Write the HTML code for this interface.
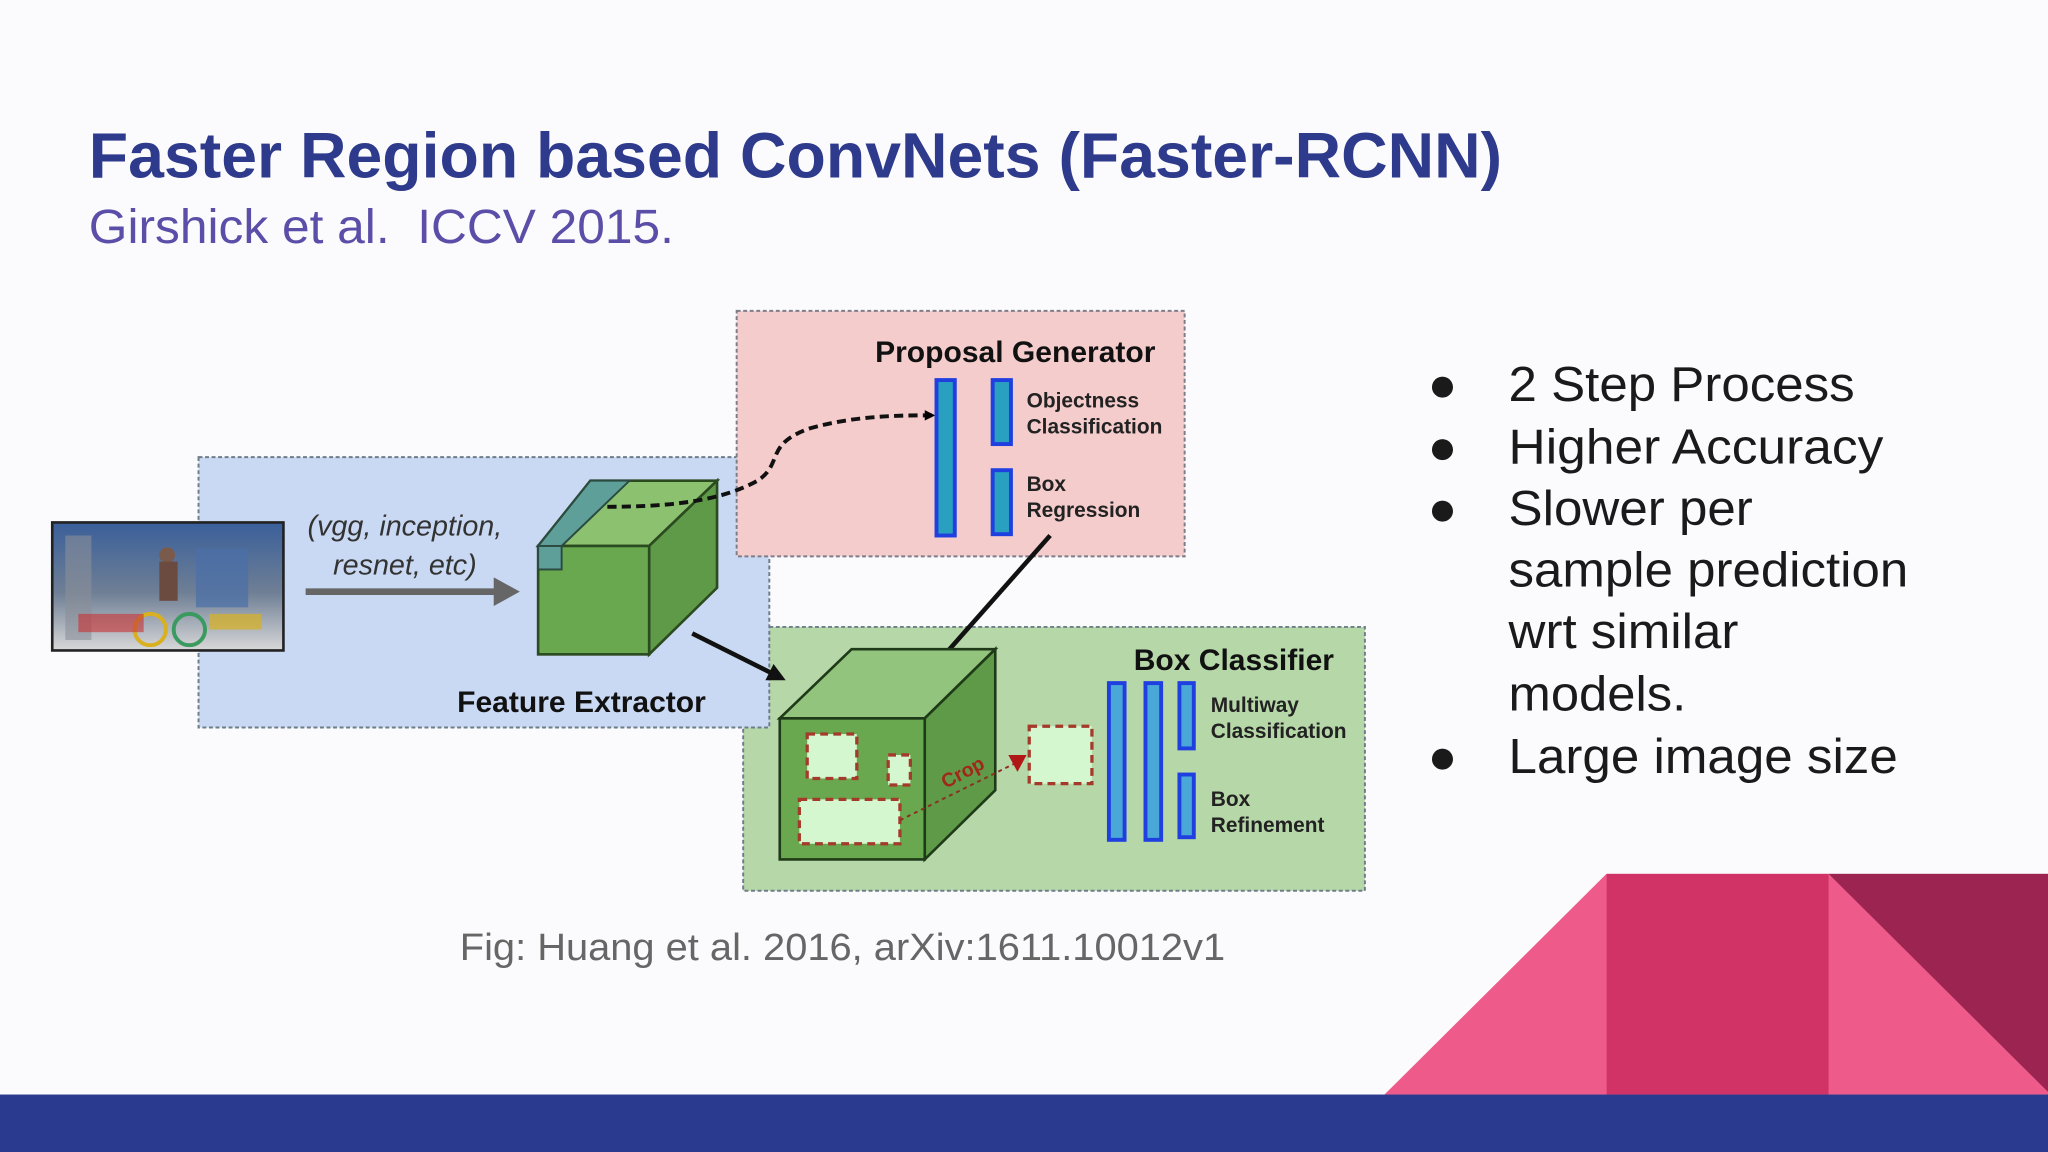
<!DOCTYPE html>
<html><head><meta charset="utf-8"><style>
html,body{margin:0;padding:0;background:#fbfbfd;}
svg{display:block;}
text{font-family:"Liberation Sans",sans-serif;white-space:pre;}
</style></head><body>
<svg width="2048" height="1152" viewBox="0 0 1568 882" xmlns="http://www.w3.org/2000/svg" xml:space="preserve">
<defs>
<marker id="ah" markerWidth="8" markerHeight="8" refX="6" refY="4" orient="auto" markerUnits="userSpaceOnUse"><path d="M0,0 L8,4 L0,8 z" fill="#000"/></marker>
<marker id="ahb" markerWidth="14" markerHeight="14" refX="10" refY="7" orient="auto" markerUnits="userSpaceOnUse"><path d="M0,0 L14,7 L0,14 z" fill="#111"/></marker>
<marker id="ahg" markerWidth="22" markerHeight="22" refX="14" refY="11" orient="auto" markerUnits="userSpaceOnUse"><path d="M0,0 L20,11 L0,22 z" fill="#666"/></marker>
<linearGradient id="ph" x1="0" y1="0" x2="0" y2="1"><stop offset="0" stop-color="#3a5f9a"/><stop offset="0.55" stop-color="#6f7f95"/><stop offset="1" stop-color="#d8d8d8"/></linearGradient>
</defs>
<rect width="1568" height="882" fill="#fbfbfd"/>
<text x="68" y="136" font-size="49" font-weight="bold" fill="#2e3a8c" textLength="1082" lengthAdjust="spacingAndGlyphs">Faster Region based ConvNets (Faster-RCNN)</text>
<text x="68" y="186" font-size="37" fill="#5b4ea8" textLength="448" lengthAdjust="spacingAndGlyphs">Girshick et al.  ICCV 2015.</text>

<rect x="569" y="480" width="476" height="202" fill="#b6d7a8" stroke="#6d7d8a" stroke-width="1.5" stroke-dasharray="3,2"/>
<rect x="152" y="350" width="437" height="207" fill="#c9d9f3" stroke="#6d7d8a" stroke-width="1.5" stroke-dasharray="3,2"/>
<rect x="564" y="238" width="343" height="188" fill="#f4cccc" stroke="#7d7d8a" stroke-width="1.5" stroke-dasharray="3,2"/>

<rect x="40" y="400" width="177" height="98" fill="url(#ph)" stroke="#222" stroke-width="2"/>
<rect x="50" y="410" width="20" height="80" fill="#8a8f9a" opacity="0.6"/>
<rect x="150" y="420" width="40" height="45" fill="#4a6fa8" opacity="0.7"/>
<circle cx="128" cy="425" r="6" fill="#7a5a4a"/>
<rect x="122" y="430" width="14" height="30" fill="#6b4b40"/>
<circle cx="115" cy="482" r="12" fill="none" stroke="#d9b020" stroke-width="3"/>
<circle cx="145" cy="482" r="12" fill="none" stroke="#3a9a60" stroke-width="3"/>
<rect x="60" y="470" width="50" height="14" fill="#c83030" opacity="0.6"/>
<rect x="160" y="470" width="40" height="12" fill="#d9b020" opacity="0.7"/>

<text x="310" y="410" font-size="22" font-style="italic" fill="#333" text-anchor="middle">(vgg, inception,</text>
<text x="310" y="440" font-size="22" font-style="italic" fill="#333" text-anchor="middle">resnet, etc)</text>
<line x1="234" y1="453" x2="392" y2="453" stroke="#666" stroke-width="5" marker-end="url(#ahg)"/>

<polygon points="412,418 452,368 549,368 497,418" fill="#8bc16f" stroke="#2b4a20" stroke-width="2"/>
<polygon points="497,418 549,368 549,450 497,501" fill="#5e9a48" stroke="#2b4a20" stroke-width="2"/>
<rect x="412" y="418" width="85" height="83" fill="#6aa84f" stroke="#2b4a20" stroke-width="2"/>
<polygon points="412,418 452,368 482,368 430,418" fill="#5f9f9a" stroke="#2b4a40" stroke-width="1.5"/>
<rect x="412" y="418" width="18" height="18" fill="#5f9f9a" stroke="#2b4a40" stroke-width="1.5"/>
<path d="M465,388 C520,388 555,382 580,368 C600,355 585,340 620,328 C655,318 690,318 714,318" fill="none" stroke="#111" stroke-width="3" stroke-dasharray="7,4" marker-end="url(#ah)"/>
<text x="350" y="545" font-size="23" font-weight="bold" fill="#111">Feature Extractor</text>

<text x="670" y="277" font-size="23" font-weight="bold" fill="#111">Proposal Generator</text>
<rect x="717" y="291" width="14" height="119" fill="#2aa0c0" stroke="#1f3fe0" stroke-width="3"/>
<rect x="760" y="291" width="14" height="49" fill="#2aa0c0" stroke="#1f3fe0" stroke-width="3"/>
<rect x="760" y="360" width="14" height="49" fill="#2aa0c0" stroke="#1f3fe0" stroke-width="3"/>
<text x="786" y="312" font-size="16" font-weight="bold" fill="#222">Objectness</text>
<text x="786" y="332" font-size="16" font-weight="bold" fill="#222">Classification</text>
<text x="786" y="376" font-size="16" font-weight="bold" fill="#222">Box</text>
<text x="786" y="396" font-size="16" font-weight="bold" fill="#222">Regression</text>

<line x1="804" y1="410" x2="704" y2="523" stroke="#111" stroke-width="3.5" marker-end="url(#ahb)"/>
<line x1="530" y1="485" x2="598" y2="519" stroke="#111" stroke-width="3.5" marker-end="url(#ahb)"/>

<polygon points="597,550 652,497 762,497 708,550" fill="#93c47d" stroke="#1f3a18" stroke-width="2"/>
<polygon points="708,550 762,497 762,605 708,658" fill="#5e9a48" stroke="#1f3a18" stroke-width="2"/>
<rect x="597" y="550" width="111" height="108" fill="#6aa84f" stroke="#1f3a18" stroke-width="2"/>
<g fill="#d4f7d0" stroke="#a33a2a" stroke-width="2.5" stroke-dasharray="6,4">
<rect x="618" y="562" width="38" height="34"/>
<rect x="680" y="578" width="17" height="23"/>
<rect x="612" y="612" width="77" height="34"/>
<rect x="788" y="556" width="48" height="44"/>
</g>
<line x1="689" y1="628" x2="776" y2="585" stroke="#8a3020" stroke-width="1.5" stroke-dasharray="3,3"/>
<polygon points="772,578 786,578 779,591" fill="#b01818"/>
<text x="0" y="0" font-size="15" font-weight="bold" fill="#a02818" transform="translate(724,604) rotate(-28)">Crop</text>

<text x="868" y="513" font-size="23" font-weight="bold" fill="#111">Box Classifier</text>
<rect x="849" y="523" width="12" height="120" fill="#4aa8d8" stroke="#1f3fe0" stroke-width="3"/>
<rect x="877" y="523" width="12" height="120" fill="#4aa8d8" stroke="#1f3fe0" stroke-width="3"/>
<rect x="903" y="523" width="11" height="50" fill="#4aa8d8" stroke="#1f3fe0" stroke-width="3"/>
<rect x="903" y="593" width="11" height="48" fill="#4aa8d8" stroke="#1f3fe0" stroke-width="3"/>
<text x="927" y="545" font-size="16" font-weight="bold" fill="#222">Multiway</text>
<text x="927" y="565" font-size="16" font-weight="bold" fill="#222">Classification</text>
<text x="927" y="617" font-size="16" font-weight="bold" fill="#222">Box</text>
<text x="927" y="637" font-size="16" font-weight="bold" fill="#222">Refinement</text>

<text x="352" y="735" font-size="29" fill="#666" textLength="586" lengthAdjust="spacingAndGlyphs">Fig: Huang et al. 2016, arXiv:1611.10012v1</text>

<g font-size="37.5" fill="#1a1a1a">
<text x="1093" y="307">●</text><text x="1155" y="307" textLength="265" lengthAdjust="spacingAndGlyphs">2 Step Process</text>
<text x="1093" y="355">●</text><text x="1155" y="355" textLength="287" lengthAdjust="spacingAndGlyphs">Higher Accuracy</text>
<text x="1093" y="402">●</text><text x="1155" y="402" textLength="187" lengthAdjust="spacingAndGlyphs">Slower per</text>
<text x="1155" y="449" textLength="306" lengthAdjust="spacingAndGlyphs">sample prediction</text>
<text x="1155" y="496" textLength="176" lengthAdjust="spacingAndGlyphs">wrt similar</text>
<text x="1155" y="544" textLength="136" lengthAdjust="spacingAndGlyphs">models.</text>
<text x="1093" y="592">●</text><text x="1155" y="592" textLength="298" lengthAdjust="spacingAndGlyphs">Large image size</text>
</g>

<polygon points="1060,838 1230,669 1230,838" fill="#ee5b8b"/>
<rect x="1230" y="669" width="170" height="169" fill="#d23367"/>
<rect x="1400" y="669" width="168" height="169" fill="#9c2450"/>
<polygon points="1400,669 1400,838 1568,838 1568,836" fill="#ee5b8b"/>
<rect x="0" y="838" width="1568" height="44" fill="#2a3a8f"/>
</svg>
</body></html>
